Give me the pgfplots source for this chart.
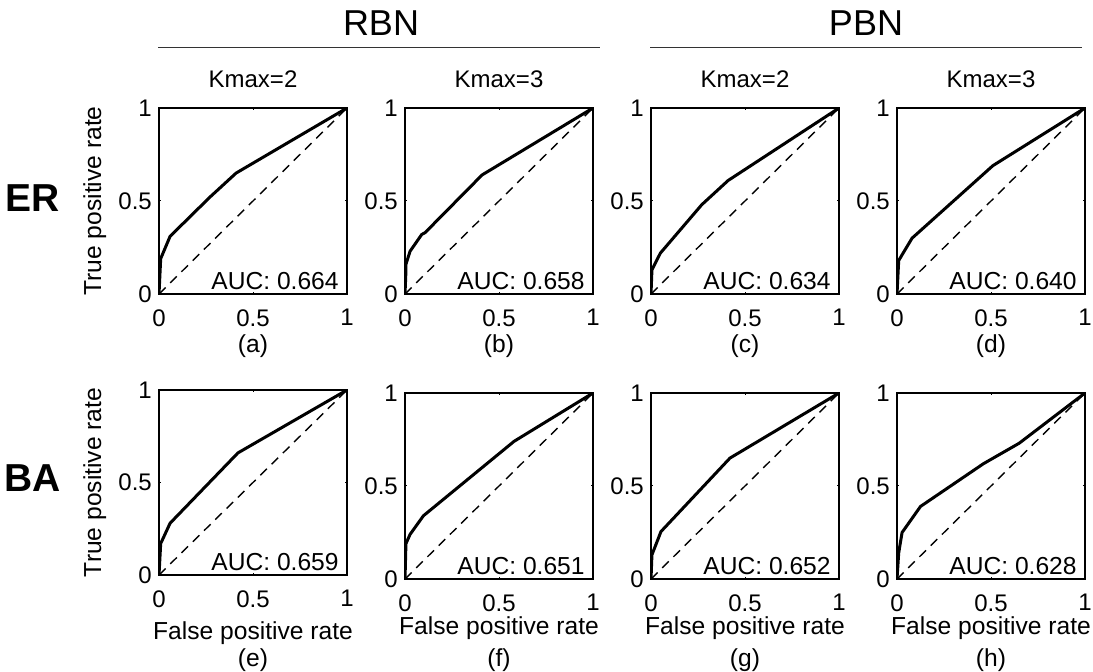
\documentclass[border=0pt]{standalone}
\usepackage{fontspec}
\setmainfont{Liberation Sans}
\usepackage{pgfplots}
\pgfplotsset{compat=1.18}

% one ROC panel, 188 x 186 px at 0.5pt per px
\pgfplotsset{
  rocax/.style={
    scale only axis, width=94pt, height=93pt,
    anchor=south west,
    xmin=0, xmax=1, ymin=0, ymax=1,
    xtick={0,0.5,1}, ytick={0,0.5,1},
    tick align=inside, xtick pos=both, ytick pos=both,
    major tick length=1.2pt,
    axis line style={line width=0.6pt},
    every tick/.style={black, line width=0.5pt},
    /pgf/number format/assume math mode=true,
    tick label style={font=\fontsize{12}{14}\selectfont, inner sep=0pt},
    xticklabel style={anchor=north, yshift=-7.5pt},
    yticklabel style={anchor=east, xshift=-3.4pt},
    label style={font=\fontsize{12.3}{14}\selectfont, inner sep=0pt},
    clip mode=individual,
  },
  roc/.style={black, line width=1.5pt, line join=round},
  chance/.style={black, line width=0.7pt, dash pattern=on 4.6pt off 3.3pt},
}
\tikzset{
  auc/.style={font=\fontsize{12.3}{14}\selectfont, anchor=base east, inner sep=0pt, xshift=-4pt, yshift=2.3pt},
  sub/.style={font=\fontsize{12.3}{14}\selectfont, anchor=base, inner sep=0pt},
}

\begin{document}
\begin{tikzpicture}
\useasboundingbox (0,0) rectangle (546.5pt,-336pt);

% column headers
\node[font=\fontsize{18}{20}\selectfont, anchor=base] at (190.5pt,-18pt) {RBN};
\node[font=\fontsize{18}{20}\selectfont, anchor=base] at (433pt,-18pt) {PBN};
\draw[line width=0.5pt, black!80] (79pt,-23.8pt) -- (300pt,-23.8pt);
\draw[line width=0.5pt, black!80] (325pt,-23.8pt) -- (541pt,-23.8pt);
\foreach \cx/\k in {126.5/2, 249.5/3, 372.5/2, 495.5/3}
  \node[font=\fontsize{12}{14}\selectfont, anchor=base] at (\cx pt,-44pt) {Kmax=\k};

% row headers
\node[font=\bfseries\fontsize{19.5}{22}\selectfont, anchor=base] at (16.5pt,-105.8pt) {ER};
\node[font=\bfseries\fontsize{19.5}{22}\selectfont, anchor=base] at (16.5pt,-246pt) {BA};

% ---- row 1: ER ----
\begin{axis}[rocax, at={(79.5pt,-147pt)},
  ylabel={True positive rate},
  ylabel style={at={(axis description cs:-0.3085,0.5)}, anchor=base}]
\addplot[roc] coordinates {(0,0) (0.009,0.19) (0.059,0.31) (0.27,0.52) (0.41,0.65) (1,1)};
\addplot[chance] coordinates {(0,0) (1,1)};
\node[auc] at (rel axis cs:1,0) {AUC: 0.664};
\node[sub] at (rel axis cs:0.5,-0.317) {(a)};
\end{axis}

\begin{axis}[rocax, at={(202.5pt,-147pt)}]
\addplot[roc] coordinates {(0,0) (0.004,0.10) (0.005,0.16) (0.027,0.23) (0.089,0.32) (0.107,0.33) (0.41,0.64) (1,1)};
\addplot[chance] coordinates {(0,0) (1,1)};
\node[auc] at (rel axis cs:1,0) {AUC: 0.658};
\node[sub] at (rel axis cs:0.5,-0.317) {(b)};
\end{axis}

\begin{axis}[rocax, at={(325.5pt,-147pt)}]
\addplot[roc] coordinates {(0,0) (0.005,0.13) (0.05,0.22) (0.27,0.48) (0.41,0.61) (1,1)};
\addplot[chance] coordinates {(0,0) (1,1)};
\node[auc] at (rel axis cs:1,0) {AUC: 0.634};
\node[sub] at (rel axis cs:0.5,-0.317) {(c)};
\end{axis}

\begin{axis}[rocax, at={(448.5pt,-147pt)}]
\addplot[roc] coordinates {(0,0) (0.009,0.18) (0.08,0.30) (0.51,0.69) (1,1)};
\addplot[chance] coordinates {(0,0) (1,1)};
\node[auc] at (rel axis cs:1,0) {AUC: 0.640};
\node[sub] at (rel axis cs:0.5,-0.317) {(d)};
\end{axis}

% ---- row 2: BA ----
\begin{axis}[rocax, at={(79.5pt,-287.5pt)}, height=92.5pt,
  ylabel={True positive rate},
  ylabel style={at={(axis description cs:-0.3085,0.5)}, anchor=base},
  xlabel={False positive rate},
  xlabel style={at={(axis description cs:0.5,-0.346)}, anchor=base}]
\addplot[roc] coordinates {(0,0) (0.009,0.17) (0.059,0.28) (0.42,0.66) (1,1)};
\addplot[chance] coordinates {(0,0) (1,1)};
\node[auc] at (rel axis cs:1,0) {AUC: 0.659};
\node[sub] at (rel axis cs:0.5,-0.497) {(e)};
\end{axis}

\begin{axis}[rocax, at={(202.5pt,-289.5pt)},
  xlabel={False positive rate},
  xlabel style={at={(axis description cs:0.5,-0.296)}, anchor=base}]
\addplot[roc] coordinates {(0,0) (0.005,0.19) (0.027,0.24) (0.098,0.34) (0.58,0.74) (1,1)};
\addplot[chance] coordinates {(0,0) (1,1)};
\node[auc] at (rel axis cs:1,0) {AUC: 0.651};
\node[sub] at (rel axis cs:0.5,-0.473) {(f)};
\end{axis}

\begin{axis}[rocax, at={(325.5pt,-289.5pt)},
  xlabel={False positive rate},
  xlabel style={at={(axis description cs:0.5,-0.296)}, anchor=base}]
\addplot[roc] coordinates {(0,0) (0.005,0.13) (0.053,0.255) (0.42,0.65) (1,1)};
\addplot[chance] coordinates {(0,0) (1,1)};
\node[auc] at (rel axis cs:1,0) {AUC: 0.652};
\node[sub] at (rel axis cs:0.5,-0.473) {(g)};
\end{axis}

\begin{axis}[rocax, at={(448.5pt,-289.5pt)},
  xlabel={False positive rate},
  xlabel style={at={(axis description cs:0.5,-0.296)}, anchor=base}]
\addplot[roc] coordinates {(0,0) (0.009,0.14) (0.027,0.25) (0.125,0.39) (0.46,0.62) (0.65,0.73) (1,1)};
\addplot[chance] coordinates {(0,0) (1,1)};
\node[auc] at (rel axis cs:1,0) {AUC: 0.628};
\node[sub] at (rel axis cs:0.5,-0.473) {(h)};
\end{axis}
\end{tikzpicture}
\end{document}
